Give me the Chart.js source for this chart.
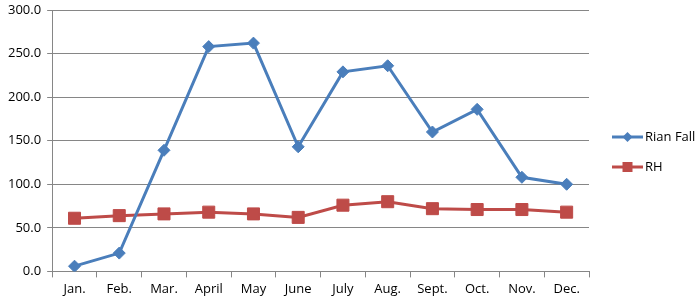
<!DOCTYPE html>
<html>
<head>
<meta charset="utf-8">
<script src="https://cdn.jsdelivr.net/npm/chart.js@4"></script>
<style>
  html, body { margin: 0; padding: 0; background: #fff; }
  #wrap { width: 700px; height: 301px; position: relative; }
</style>
</head>
<body>
<div id="wrap"><canvas id="c" width="700" height="301"></canvas></div>
<script>
const months = ["Jan.", "Feb.", "Mar.", "April", "May", "June", "July", "Aug.", "Sept.", "Oct.", "Nov.", "Dec."];
const rainFall = [6, 21, 139, 258, 262, 143, 229, 236, 160, 186, 108, 100];
const rh = [61, 64, 66, 68, 66, 62, 76, 80, 72, 71, 71, 68];
const yTicks = [0, 50, 100, 150, 200, 250, 300];
const seriesNames = ["Rian Fall", "RH"];

const FONT = "'Open Sans', 'Liberation Sans', sans-serif";

const legendPlugin = {
  id: 'sideLegend',
  afterDraw(chart) {
    const ctx = chart.ctx;
    const items = chart.data.datasets;
    const x0 = 612, lineLen = 31;
    const ys = [137, 167];
    ctx.save();
    items.forEach((ds, i) => {
      const y = ys[i];
      ctx.strokeStyle = ds.borderColor;
      ctx.lineWidth = 3;
      ctx.beginPath();
      ctx.moveTo(x0, y);
      ctx.lineTo(x0 + lineLen, y);
      ctx.stroke();
      ctx.fillStyle = ds.pointBackgroundColor;
      ctx.beginPath();
      const cx = x0 + lineLen / 2;
      if (ds.pointStyle === 'rectRot') {
        const r = 5;
        ctx.moveTo(cx, y - r); ctx.lineTo(cx + r, y); ctx.lineTo(cx, y + r); ctx.lineTo(cx - r, y);
        ctx.closePath();
      } else {
        const s = 5;
        ctx.rect(cx - s, y - s, 2 * s, 2 * s);
      }
      ctx.fill();
      ctx.fillStyle = '#000';
      ctx.font = '13px ' + FONT;
      ctx.textBaseline = 'middle';
      ctx.textAlign = 'left';
      ctx.fillText(ds.label, x0 + lineLen + 2, y);
    });
    ctx.restore();
  }
};

new Chart(document.getElementById('c'), {
  type: 'line',
  data: {
    labels: months,
    datasets: [
      {
        label: seriesNames[0],
        data: rainFall,
        borderColor: '#4A7EBB',
        backgroundColor: '#4A7EBB',
        pointBackgroundColor: '#4A7EBB',
        pointBorderColor: '#4A7EBB',
        pointStyle: 'rectRot',
        pointRadius: 6,
        pointBorderWidth: 1,
        borderWidth: 3,
        tension: 0
      },
      {
        label: seriesNames[1],
        data: rh,
        borderColor: '#BE4B48',
        backgroundColor: '#BE4B48',
        pointBackgroundColor: '#BE4B48',
        pointBorderColor: '#BE4B48',
        pointStyle: 'rect',
        pointRadius: 8.5,
        pointBorderWidth: 1,
        borderWidth: 3,
        tension: 0
      }
    ]
  },
  options: {
    responsive: false,
    animation: false,
    layout: { padding: { top: 0, right: 111, left: 2, bottom: 0 } },
    plugins: { legend: { display: false }, tooltip: { enabled: false } },
    scales: {
      x: {
        offset: true,
        grid: { display: true, offset: true, drawOnChartArea: false, color: '#868686', tickLength: 6 },
        border: { color: '#868686' },
        ticks: { color: '#000', font: { family: FONT, size: 13 }, padding: 4, maxRotation: 0, autoSkip: false }
      },
      y: {
        min: 0, max: 300,
        afterBuildTicks(scale) { scale.ticks = yTicks.map(v => ({ value: v })); },
        afterFit(scale) { scale.paddingTop = 10; },
        grid: { color: '#868686', tickLength: 5 },
        border: { color: '#868686' },
        ticks: {
          color: '#000', font: { family: FONT, size: 13 }, padding: 6,
          callback: v => Number(v).toFixed(1)
        }
      }
    }
  },
  plugins: [legendPlugin]
});
</script>
</body>
</html>
